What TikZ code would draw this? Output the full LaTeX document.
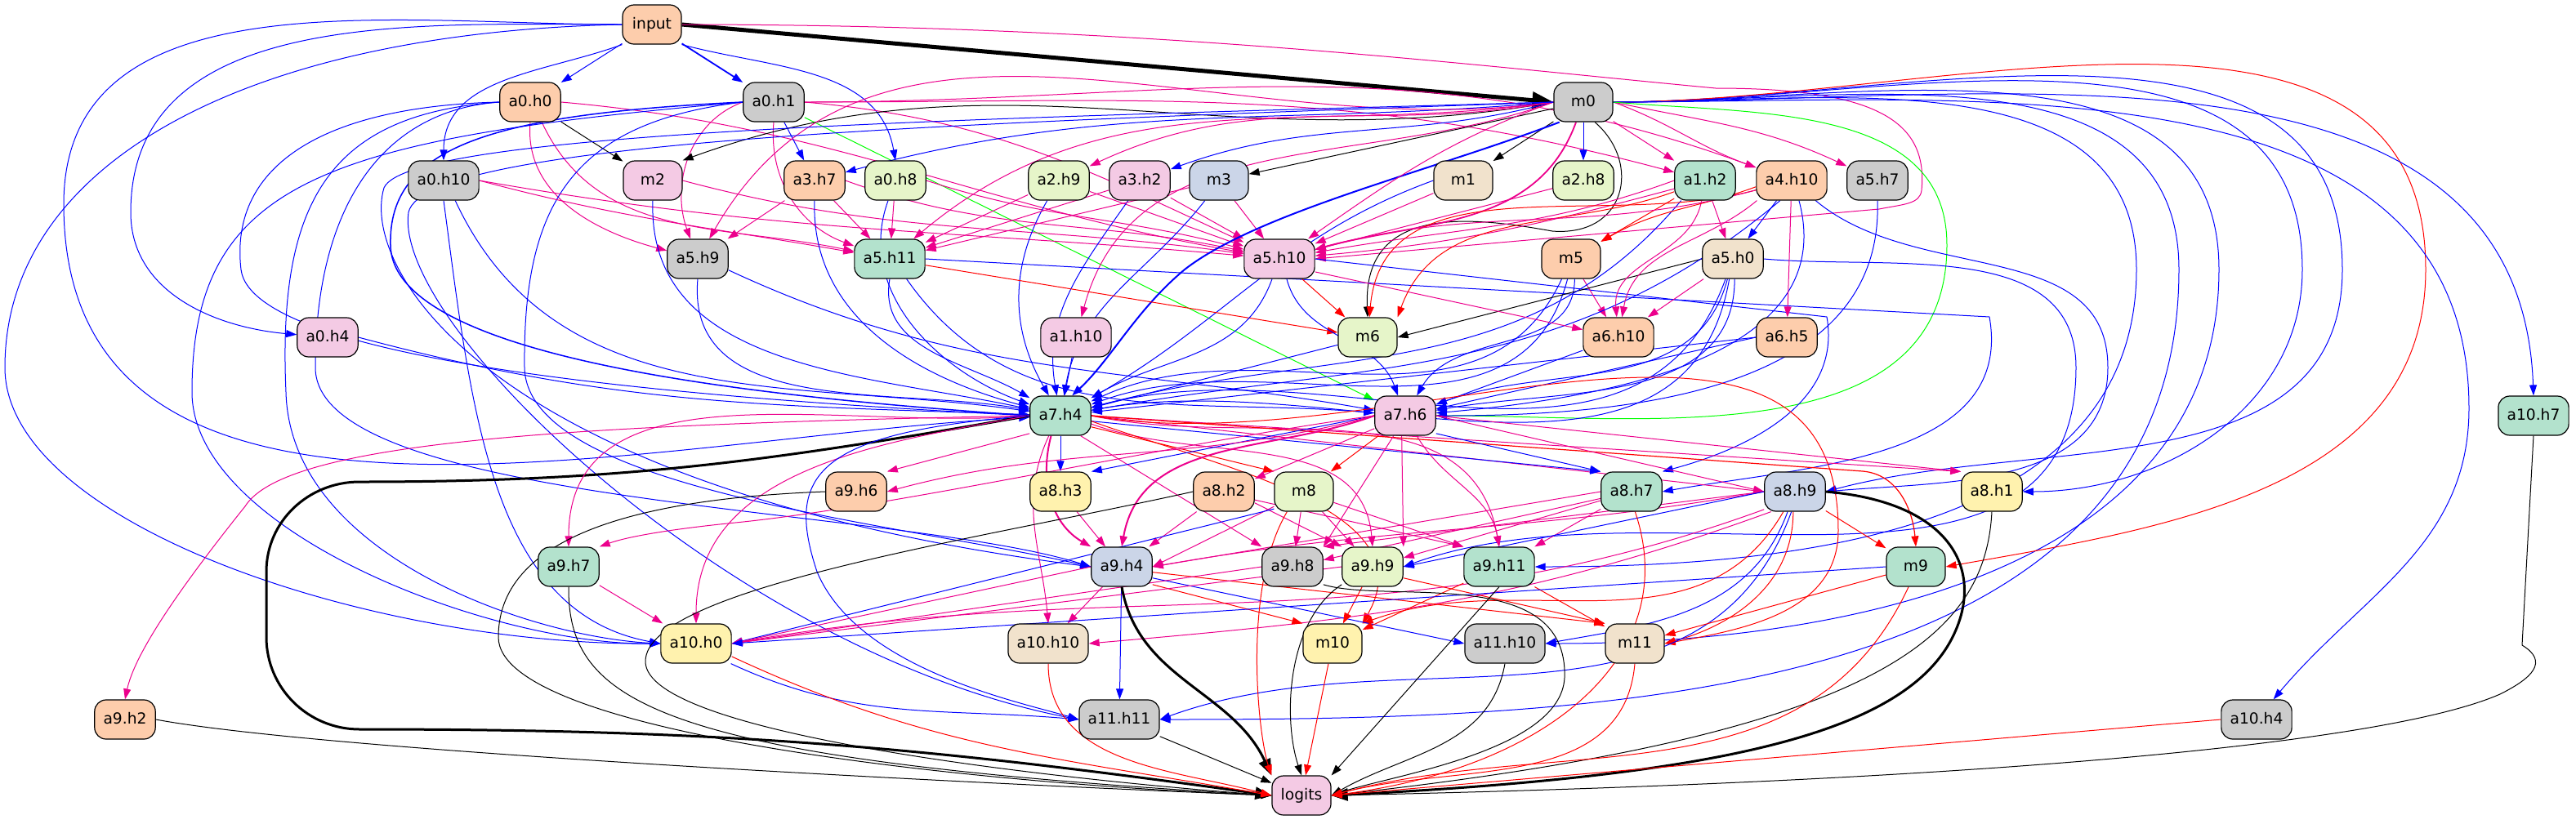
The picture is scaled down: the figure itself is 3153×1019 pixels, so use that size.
\documentclass[tikz,border=0pt]{standalone}
\usepackage{fontspec}
\setmainfont{DejaVu Sans}
\usetikzlibrary{arrows.meta}
\pgfdeclarelayer{edges}
\pgfsetlayers{edges,main}
\definecolor{pgreen}{HTML}{B3E2CD}
\definecolor{porange}{HTML}{FDCDAC}
\definecolor{pblue}{HTML}{CBD5E8}
\definecolor{ppink}{HTML}{F4CAE4}
\definecolor{plime}{HTML}{E6F5C9}
\definecolor{pyellow}{HTML}{FFF2AE}
\definecolor{pbeige}{HTML}{F1E2CC}
\definecolor{pgrey}{HTML}{CCCCCC}
\tikzset{
  nd/.style={draw=black, line width=0.3pt, rounded corners=3.5pt, minimum width=18pt,
    minimum height=12pt, inner xsep=2.675pt, inner ysep=0pt,
    font=\fontsize{4.667}{5.5}\selectfont, text height=3.5pt, text depth=1pt},
  ed/.style={-{Triangle[length=3.25pt,width=2.25pt]}, line width=0.25pt},
  eB/.style={ed, draw=blue},
  eM/.style={ed, draw=magenta},
  eR/.style={ed, draw=red},
  eK/.style={ed, draw=black},
  eG/.style={ed, draw=green},
  thk/.style={line width=0.75pt, -{Triangle[length=5pt,width=3.75pt]}},
}
\begin{document}
\begin{tikzpicture}[x=0.25pt,y=0.25pt]
\useasboundingbox (0,0) rectangle (3153,-1019);
% nodes
\node[nd, fill=porange] (input) at (798,-30) {input};
\node[nd, fill=pgrey] (m0) at (1938,-125) {m0};
\node[nd, fill=porange] (a0h0) at (649,-125) {a0.h0};
\node[nd, fill=pgrey] (a0h1) at (947,-125) {a0.h1};
\node[nd, fill=pgrey] (a0h10) at (543,-221) {a0.h10};
\node[nd, fill=ppink] (m2) at (799,-221) {m2};
\node[nd, fill=porange] (a3h7) at (997,-221) {a3.h7};
\node[nd, fill=plime] (a0h8) at (1096,-221) {a0.h8};
\node[nd, fill=plime] (a2h9) at (1296,-221) {a2.h9};
\node[nd, fill=ppink] (a3h2) at (1395,-221) {a3.h2};
\node[nd, fill=pblue] (m3) at (1492,-221) {m3};
\node[nd, fill=pbeige] (m1) at (1791,-221) {m1};
\node[nd, fill=plime] (a2h8) at (1938,-221) {a2.h8};
\node[nd, fill=pgreen] (a1h2) at (2087,-221) {a1.h2};
\node[nd, fill=porange] (a4h10) at (2193,-221) {a4.h10};
\node[nd, fill=pgrey] (a5h7) at (2298,-221) {a5.h7};
\node[nd, fill=pgrey] (a5h9) at (854,-317) {a5.h9};
\node[nd, fill=pgreen] (a5h11) at (1089,-317) {a5.h11};
\node[nd, fill=ppink] (a5h10) at (1566,-317) {a5.h10};
\node[nd, fill=porange] (m5) at (1923,-317) {m5};
\node[nd, fill=pbeige] (a5h0) at (2121,-317) {a5.h0};
\node[nd, fill=ppink] (a0h4) at (401,-413) {a0.h4};
\node[nd, fill=ppink] (a1h10) at (1317,-413) {a1.h10};
\node[nd, fill=plime] (m6) at (1674,-413) {m6};
\node[nd, fill=porange] (a6h10) at (1981,-413) {a6.h10};
\node[nd, fill=porange] (a6h5) at (2187,-413) {a6.h5};
\node[nd, fill=pgreen] (a7h4) at (1298,-509) {a7.h4};
\node[nd, fill=ppink] (a7h6) at (1720,-509) {a7.h6};
\node[nd, fill=pgreen] (a10h7) at (3101,-509) {a10.h7};
\node[nd, fill=porange] (a9h6) at (1048,-602) {a9.h6};
\node[nd, fill=pyellow] (a8h3) at (1298,-602) {a8.h3};
\node[nd, fill=porange] (a8h2) at (1498,-602) {a8.h2};
\node[nd, fill=plime] (m8) at (1596,-602) {m8};
\node[nd, fill=pgreen] (a8h7) at (1997,-602) {a8.h7};
\node[nd, fill=pblue] (a8h9) at (2197,-602) {a8.h9};
\node[nd, fill=pyellow] (a8h1) at (2438,-602) {a8.h1};
\node[nd, fill=pgreen] (a9h7) at (696,-694) {a9.h7};
\node[nd, fill=pblue] (a9h4) at (1373,-694) {a9.h4};
\node[nd, fill=pgrey] (a9h8) at (1582,-694) {a9.h8};
\node[nd, fill=plime] (a9h9) at (1680,-694) {a9.h9};
\node[nd, fill=pgreen] (a9h11) at (1835,-694) {a9.h11};
\node[nd, fill=pgreen] (m9) at (2345,-694) {m9};
\node[nd, fill=pyellow] (a10h0) at (852,-788) {a10.h0};
\node[nd, fill=pbeige] (a10h10) at (1283,-788) {a10.h10};
\node[nd, fill=pyellow] (m10) at (1631,-788) {m10};
\node[nd, fill=pgrey] (a11h10) at (1842,-788) {a11.h10};
\node[nd, fill=pbeige] (m11) at (2001,-788) {m11};
\node[nd, fill=porange] (a9h2) at (153,-881) {a9.h2};
\node[nd, fill=pgrey] (a11h11) at (1370,-881) {a11.h11};
\node[nd, fill=pgrey] (a10h4) at (2762,-881) {a10.h4};
\node[nd, fill=ppink] (logits) at (1593,-974) {logits};

\begin{pgfonlayer}{edges}
% ---- input
\draw[eK, line width=1.25pt, -{Triangle[length=6.5pt,width=5pt]}] (input.east) -- (m0.west);
\draw[eB] (input) -- (a0h0);
\draw[eB, line width=0.45pt] (input) -- (a0h1);
\draw[eB] (input.south west) to[out=200,in=90] (a0h10.north);
\draw[eB] (input.south east) to[out=-15,in=100] (a0h8.north);
\draw[eB] (input.west) to[out=180,in=90] (160,-260) to[out=-90,in=175] (a0h4);
\draw[eB] (input.west) to[out=180,in=90] (78,-250) to[out=-90,in=183] (a7h4);
\draw[eB] (input.west) .. controls (300,-40) and (6,-200) .. (6,-450) .. controls (6,-640) and (450,-790) .. (a10h0.west);
\draw[eM] (input.east) .. controls (1400,-30) and (1800,-80) .. (2100,-108) .. controls (2300,-108) and (2360,-150) .. (2352,-233) .. controls (2350,-250) and (2330,-250) .. (2300,-256) -- (a5h10.east);
% ---- a0.h0
\draw[eK] (a0h0) -- (m2);
\draw[eM] (a0h0.south) to[out=-95,in=165] (a5h9);
\draw[eM] (a0h0.-60) to[out=-65,in=168] (a5h11);
\draw[eM] (a0h0.east) to[out=-5,in=170] (a5h10);
\draw[eB] (a0h0.west) .. controls (400,-130) and (280,-200) .. (295,-330) .. controls (310,-450) and (900,-490) .. (a7h4.west);
\draw[eB] (a0h0.west) .. controls (470,-135) and (386,-250) .. (386,-450) .. controls (386,-620) and (1100,-620) .. (a9h4.west);
\draw[eB] (a0h0.west) .. controls (400,-140) and (340,-250) .. (350,-480) .. controls (355,-680) and (650,-780) .. (a10h0.west);
% ---- a0.h1
\draw[eB] (a0h1) -- (a3h7);
\draw[eG] (a0h1) -- (a7h6);
\draw[eM] (a0h1.west) to[out=200,in=110] (a5h9);
\draw[eM] (a0h1.south) to[out=-95,in=160] (a5h11);
\draw[eM] (a0h1.east) to[out=-5,in=155] (a5h10);
\draw[eM] (a0h1.east) to[out=0,in=165] (a1h2);
\draw[eM] (a0h1.east) to[out=0,in=160] (a4h10);
\draw[eB, line width=0.375pt] (a0h1.west) .. controls (600,-140) and (475,-180) .. (478,-300) .. controls (480,-450) and (1000,-490) .. (a7h4.west);
\draw[eB] (a0h1.west) .. controls (700,-150) and (640,-250) .. (642,-450) .. controls (645,-600) and (1100,-640) .. (a9h4.west);
\draw[eB] (a0h1.west) .. controls (400,-170) and (235,-220) .. (235,-480) .. controls (235,-650) and (600,-790) .. (a10h0.west);
% ---- a0.h10, m2, a3.h7 ...
\draw[eM] (a0h10.east) to[out=-15,in=170] (a5h11);
\draw[eM] (a0h10.east) to[out=-10,in=175] (a5h10);
\draw[eB] (a0h10.-60) to[out=-65,in=172] (a7h4);
\draw[eB] (a0h10.south) .. controls (577,-500) and (600,-750) .. (a10h0.west);
\draw[eM] (m2.east) to[out=-15,in=172] (a5h10);
\draw[eB] (m2.south) to[out=-92,in=168] (a7h4);
\draw[eM] (a3h7) -- (a5h9);
\draw[eM] (a3h7) -- (a5h11);
\draw[eM] (a3h7.east) to[out=-20,in=168] (a5h10);
\draw[eB] (a3h7.south) to[out=-92,in=165] (a7h4);
\draw[eM] (a0h8) -- (a5h11);
\draw[eM] (a0h8.east) to[out=-18,in=165] (a5h10);
\draw[eB] (a0h8.-110) to[out=-110,in=160] (a7h4);
\draw[eM] (a2h9) -- (a5h11);
\draw[eM] (a2h9) -- (a5h10);
\draw[eB] (a2h9.-120) to[out=-120,in=120] (a7h4);
\draw[eM] (a3h2) -- (a5h11);
\draw[eM] (a3h2) -- (a5h10);
\draw[eB] (a3h2.-120) to[out=-125,in=100] (a7h4);
\draw[eM] (m3) -- (a5h10);
\draw[eM] (m3) -- (a5h11);
\draw[eB] (m3.-125) to[out=-128,in=80] (a7h4);
\draw[eM] (m1) -- (a5h10);
\draw[eB] (m1.west) to[out=200,in=30] (a7h4);
\draw[eM] (a2h8) -- (a5h10);
% ---- m0 left/top
\draw[eK] (m0) -- (m1);
\draw[eK] (m0.west) to[out=190,in=20] (m2.north east);
\draw[eK] (m0) -- (m3);
\draw[eK] (m0.-60) .. controls (2010,-200) and (1990,-290) .. (1900,-283) .. controls (1800,-265) and (1668,-250) .. (m6.north);
\draw[eB] (m0) -- (a2h8);
\draw[eM] (m0) -- (a1h2);
\draw[eM] (m0.east) to[out=-20,in=160] (a4h10);
\draw[eM] (m0.east) to[out=-12,in=155] (a5h7);
\draw[eM] (m0.west) to[out=190,in=25] (a2h9);
\draw[eB] (m0.west) to[out=195,in=20] (a3h2);
\draw[eB] (m0.west) to[out=185,in=15] (a3h7);
\draw[eB, line width=0.5pt] (m0.-140) .. controls (1750,-210) and (1540,-260) .. (1450,-330) .. controls (1390,-380) and (1360,-440) .. (a7h4.60);
\draw[eM, line width=0.45pt] (m0.-110) to[out=-110,in=15] (a5h10);
\draw[eM] (m0.west) to[out=200,in=35] (a5h10);
\draw[eM] (m0.west) to[out=188,in=40] (a5h11);
\draw[eM] (m0.west) to[out=188,in=60] (a5h9);
\draw[eM] (m0.west) to[out=200,in=75] (a1h10);
\draw[eB] (m0.west) .. controls (1200,-145) and (500,-160) .. (470,-230) .. controls (440,-330) and (600,-600) .. (a9h4.west);
\draw[eB] (m0.west) .. controls (1200,-150) and (520,-170) .. (500,-260) .. controls (480,-400) and (900,-800) .. (a11h11.west);
% ---- m0 right fan
\draw[eB] (m0.east) to[out=0,in=90] (2615,-330) to[out=-90,in=0] (a9h11.east);
\draw[eB] (m0.east) to[out=0,in=90] (2667,-330) to[out=-90,in=0] (a11h11.east);
\draw[eB] (m0.east) to[out=0,in=90] (2716,-330) to[out=-90,in=0] (a11h10.east);
\draw[eB] (m0.east) to[out=0,in=90] (2818,-330) to[out=-90,in=0] (a8h1.east);
\draw[eB] (m0.east) to[out=0,in=90] (2867,-330) to[out=-90,in=15] (a8h9.east);
\draw[eR] (m0.east) to[out=0,in=90] (2969,-330) to[out=-90,in=10] (m9.east);
\draw[eB] (m0.east) to[out=0,in=90] (3022,-500) to[out=-90,in=50] (a10h4);
\draw[eB] (m0.east) to[out=0,in=92] (a10h7.north);
\draw[eG] (m0.east) to[out=-5,in=90] (2383,-300) to[out=-90,in=0] (a7h6.east);
% ---- row 3 / 4
\draw[eB] (a5h10.east) -- (2236,-388) to[out=-80,in=15] (a8h7.north east);
\draw[eB] (a5h11.east) -- (2435,-388) to[out=-80,in=10] (a8h7.east);
\draw[eB] (a5h0.east) to[out=-5,in=90] (2541,-450) to[out=-90,in=20] (a9h9.east);
\draw[eB] (a4h10.-40) to[out=-40,in=90] (2580,-450) to[out=-90,in=5] (a8h9.east);
\draw[eB] (m6) -- (a7h4);
\draw[eB] (m5.-100) to[out=-105,in=20] (a7h4);
\draw[eB] (m5.-115) to[out=-115,in=25] (a7h4);
\draw[eB] (m5.-80) to[out=-90,in=60] (a7h6);
\draw[eM] (m5) -- (a6h10);
\draw[eB] (a5h0.-110) to[out=-110,in=15] (a7h4);
\draw[eB] (a5h0.-100) to[out=-100,in=10] (a7h4);
\draw[eB] (a5h0.-105) to[out=-105,in=20] (a7h6);
\draw[eB] (a5h0.-85) to[out=-90,in=10] (a7h6);
\draw[eK] (a5h0.west) -- (m6.east);
\draw[eM] (a5h0) -- (a6h10);
\draw[eB] (a6h5.west) -- (a7h4);
\draw[eB] (a6h5.west) -- (a7h6);
\draw[eB] (a6h10) -- (a7h6);
\draw[eB] (a1h2.-140) to[out=-130,in=15] (a7h4);
\draw[eB] (a4h10.-120) to[out=-140,in=10] (a7h4);
\draw[eB] (a4h10.-70) to[out=-75,in=5] (a7h6);
\draw[eB] (a5h7.south) to[out=-88,in=0] (a7h6);
\draw[eB] (a5h9.-20) to[out=-25,in=170] (a7h6);
\draw[eB] (a5h9.south) to[out=-95,in=170] (a7h4);
\draw[eB] (a5h11.south) to[out=-100,in=150] (a7h4);
\draw[eB] (a5h11.-50) to[out=-55,in=175] (a7h6);
\draw[eR] (a5h11.-10) -- (m6);
\draw[eB] (a5h10.-110) to[out=-110,in=30] (a7h4);
\draw[eB] (a5h10.-70) to[out=-75,in=110] (a7h6);
\draw[eR] (a5h10) -- (m6);
\draw[eM] (a5h10.-20) -- (a6h10);
\draw[eM] (a1h2.west) to[out=200,in=10] (a5h10);
\draw[eM] (a1h2.-165) to[out=195,in=5] (a5h10);
\draw[eR] (a1h2) -- (m5);
\draw[eM] (a1h2) -- (a5h0);
\draw[eR] (a1h2.-160) to[out=200,in=70] (m6.north east);
\draw[eM] (a1h2.-100) to[out=-100,in=95] (a6h10);
\draw[eB] (a4h10) -- (a5h0);
\draw[eM] (a4h10) -- (a6h5);
\draw[eR] (a4h10.-170) to[out=200,in=30] (m5);
\draw[eR] (a4h10.-165) to[out=195,in=85] (m6);
\draw[eM] (a4h10.-165) to[out=195,in=15] (a5h10);
\draw[eM] (a4h10.-150) to[out=-140,in=80] (a6h10);
\draw[eB] (a1h10) -- (a7h4);
\draw[eB] (a0h4.east) to[out=-15,in=178] (a7h4);
% ---- a7.h4 outgoing
\draw[eK, thk] (a7h4.west) to[out=190,in=0] (440,-590) to[out=180,in=90] (326,-700) -- (326,-780) to[out=-90,in=180] (440,-893) to[out=0,in=172] (logits.west);
\draw[eB] (a7h4) -- (a8h3);
\draw[eM] (a7h4.-150) -- (a9h6.north east);
\draw[eR] (a7h4.-20) -- (m8.north west);
\draw[eM, line width=0.5pt] (a7h4.-115) to[out=-105,in=150] (a9h4.north west);
\draw[eM] (a7h4.-45) -- (a9h8.north west);
\draw[eM] (a7h4.-15) to[out=-20,in=95] (a9h9.north);
\draw[eM] (a7h4.east) to[out=-12,in=100] (a9h11.north);
\draw[eM] (a7h4.east) -- (a8h9.west);
\draw[eM] (a7h4.east) -- (a8h1.north west);
\draw[eR, line width=0.3pt] (a7h4.east) -- (2280,-577) to[out=-5,in=95] (m9.north);
\draw[eR] (a7h4.east) to[out=-10,in=90] (2250,-650) to[out=-90,in=10] (m11.east);
\draw[eM] (a7h4.-120) to[out=-115,in=95] (a10h10.north);
\draw[eM] (a7h4.west) to[out=190,in=90] (a10h0.north);
\draw[eM] (a7h4.west) to[out=185,in=90] (a9h7.north);
\draw[eM] (a7h4.west) .. controls (700,-520) and (350,-540) .. (300,-620) .. controls (220,-720) and (165,-800) .. (a9h2.north);
\draw[eB] (a7h4.west) .. controls (1000,-530) and (960,-580) .. (1000,-700) .. controls (1050,-820) and (1250,-860) .. (a11h11.west);
\draw[eB] (a7h4.-10) -- (a8h7.north west);
\draw[eR] (a7h4.-10) to[out=-20,in=60] (m10.north east);
% ---- a7.h6 outgoing
\draw[eB] (a7h6.west) -- (a8h3.north east);
\draw[eM] (a7h6.west) to[out=195,in=15] (a9h6.east);
\draw[eM] (a7h6) -- (a8h2);
\draw[eR] (a7h6) -- (m8);
\draw[eM, line width=0.5pt] (a7h6.west) to[out=200,in=80] (a9h4.north);
\draw[eM] (a7h6.-120) -- (a9h8.north east);
\draw[eM] (a7h6.-100) -- (a9h9.north east);
\draw[eM] (a7h6.-60) to[out=-60,in=100] (a9h11.north);
\draw[eB] (a7h6.-30) -- (a8h7.north west);
\draw[eM] (a7h6.east) -- (a8h9.west);
\draw[eM] (a7h6.east) -- (a8h1.north west);
\draw[eM] (a7h6.west) .. controls (1450,-540) and (1100,-620) .. (900,-640) .. controls (800,-650) and (760,-660) .. (a9h7.north east);
% ---- row 7
\draw[eM] (a8h3) -- (a9h4);
\draw[eM] (a8h2) -- (a9h4);
\draw[eM] (a8h2.-20) -- (a9h9.north west);
\draw[eM] (a8h2.-15) -- (a9h11.north west);
\draw[eM] (m8) -- (a9h4.east);
\draw[eM] (m8) -- (a9h8);
\draw[eM] (m8) -- (a9h9);
\draw[eM] (m8.-20) -- (a9h11.north west);
\draw[eB] (m8.-150) -- (a10h0.east);
\draw[eM] (a8h7.west) -- (a9h4.east);
\draw[eM] (a8h7) -- (a9h8);
\draw[eM] (a8h7) -- (a9h9);
\draw[eM] (a8h7) -- (a9h11);
\draw[eM] (a8h9.west) to[out=190,in=10] (a9h4.east);
\draw[eM] (a8h9.west) -- (a9h8.north east);
\draw[eB] (a8h9.west) -- (a9h9.east);
\draw[eR] (a8h9) -- (m9);
\draw[eR] (a8h9.-120) to[out=-120,in=20] (m10.north east);
\draw[eR] (a8h9.-95) to[out=-90,in=15] (m11.east);
\draw[eB] (a8h9.-110) to[out=-110,in=10] (a11h10.east);
\draw[eB] (a8h9.-100) to[out=-110,in=20] (a11h11.east);
\draw[eM] (a8h9.-150) to[out=200,in=10] (a10h0.east);
\draw[eM] (a8h9.-140) to[out=200,in=5] (a10h10.east);
% ---- row 8
\draw[eM] (a9h7) -- (a10h0);
\draw[eM] (a9h4.west) -- (a10h0.east);
\draw[eM] (a9h4) -- (a10h10);
\draw[eB] (a9h4) -- (a11h11);
\draw[eB] (a9h4.-20) -- (a11h10.west);
\draw[eR] (a9h4.-30) -- (m10.north west);
\draw[eR] (a9h4.-10) -- (m11.north west);
\draw[eM] (a9h8.west) -- (a10h0.east);
\draw[eM] (a9h9.west) -- (a10h0.east);
\draw[eR] (a9h9) -- (m10);
\draw[eR] (a9h9.-20) -- (m11.north west);
\draw[eR] (a9h11) -- (m10);
\draw[eR] (a9h11) -- (m11);
\draw[eB] (m9.west) -- (a10h0.east);
\draw[eR] (m9) -- (m11);
\draw[eB] (a10h0.-30) to[out=-25,in=175] (a11h11.west);
% ---- logits
\draw[eK, thk] (a9h4.south) to[out=-80,in=115] (logits.north west);
\draw[eK, thk] (a8h9.east) .. controls (2390,-615) and (2430,-700) .. (2390,-780) .. controls (2330,-900) and (2100,-950) .. (logits.east);
\draw[eK] (a9h6.west) .. controls (800,-610) and (610,-650) .. (610,-780) .. controls (610,-900) and (1200,-960) .. (logits.west);
\draw[eK] (a9h7.south) .. controls (695,-860) and (800,-930) .. (logits.west);
\draw[eK] (a8h2.west) .. controls (1200,-660) and (790,-720) .. (790,-810) .. controls (790,-900) and (1300,-955) .. (logits.west);
\draw[eK] (a9h2.east) .. controls (400,-920) and (1200,-960) .. (logits.west);
\draw[eK] (a11h11) -- (logits);
\draw[eK] (a9h9.-150) .. controls (1575,-760) and (1570,-880) .. (logits.north);
\draw[eK] (a9h11.south) -- (logits.north east);
\draw[eK] (a9h8.-30) .. controls (1700,-740) and (1920,-690) .. (1915,-830) .. controls (1910,-920) and (1700,-950) .. (logits.east);
\draw[eK] (a11h10.south) to[out=-100,in=30] (logits.east);
\draw[eK] (a8h1.south) .. controls (2430,-780) and (2300,-900) .. (logits.east);
\draw[eK] (a10h7.south) -- (3087,-790) .. controls (3120,-810) and (3100,-830) .. (3060,-850) .. controls (2900,-920) and (2300,-960) .. (logits.east);
\draw[eR] (a10h0.-20) to[out=-25,in=170] (logits.west);
\draw[eR] (a10h10.south) to[out=-90,in=165] (logits.west);
\draw[eR] (m8.-130) .. controls (1520,-720) and (1540,-900) .. (logits.north west);
\draw[eR] (m10) -- (logits);
\draw[eR] (m11.south) to[out=-95,in=15] (logits.east);
\draw[eR] (a8h7.-80) .. controls (2060,-800) and (1900,-940) .. (logits.east);
\draw[eR] (m9.-110) to[out=-115,in=15] (logits.east);
\draw[eR] (a10h4.west) -- (logits.east);
\end{pgfonlayer}
\end{tikzpicture}
\end{document}
